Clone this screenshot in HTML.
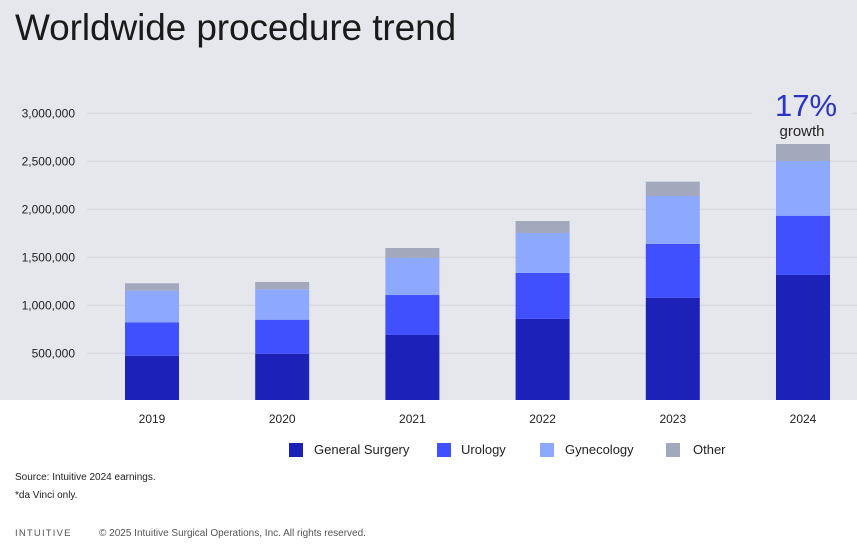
<!DOCTYPE html>
<html><head><meta charset="utf-8"><style>
body{margin:0;width:857px;height:551px;overflow:hidden;background:#fff;font-family:"Liberation Sans",sans-serif}
svg{display:block}
</style></head><body>
<svg width="857" height="551" id="chart">
<rect x="0" y="0" width="857" height="400" fill="#e6e7ed"/>
<text x="15" y="40" font-size="37" fill="#1a1a1a" style="letter-spacing:-0.1px">Worldwide procedure trend</text>
<g id="grid"></g>
<g id="bars"></g>
<g id="xlabels"></g>
<rect x="752" y="86" width="100" height="58" fill="#e6e7ed"/>
<text x="806" y="116" font-size="31" fill="#2a33c8" text-anchor="middle">17%</text>
<text x="802" y="136" font-size="15" fill="#222" text-anchor="middle">growth</text>
<g font-size="13" fill="#222">
<rect x="289" y="443" width="14" height="14" fill="#1c22b8"/><text x="314" y="454">General Surgery</text>
<rect x="437" y="443" width="14" height="14" fill="#4050ff"/><text x="461" y="454">Urology</text>
<rect x="540" y="443" width="14" height="14" fill="#8ca8ff"/><text x="565" y="454">Gynecology</text>
<rect x="666" y="443" width="14" height="14" fill="#a4a8bc"/><text x="693" y="454">Other</text>
</g>
<text x="15" y="480" font-size="10" fill="#222">Source: Intuitive 2024 earnings.</text>
<text x="15" y="498" font-size="10" fill="#222">*da Vinci only.</text>
<text x="15" y="536" font-size="9.5" fill="#555" style="letter-spacing:1.2px">INTUITIVE</text>
<text x="99" y="536" font-size="10" fill="#555">© 2025 Intuitive Surgical Operations, Inc. All rights reserved.</text>
</svg>
<script>
const categories=["2019","2020","2021","2022","2023","2024"];
const generalSurgery=[475000,496000,691000,858000,1079000,1316000];
const urology=[348000,354000,416000,479000,560000,617000];
const gynecology=[329000,317000,386000,416000,500000,570000];
const other=[77000,76000,104000,125000,149000,185000];
const yTicks=[500000,1000000,1500000,2000000,2500000,3000000];
const ns="http://www.w3.org/2000/svg";
const y0=401.3,pxPerUnit=96/1000000;
function yScale(v){return y0-v*pxPerUnit;}
function xCenter(i){return 152+i*130.2;}
const grid=document.getElementById('grid');
yTicks.forEach(t=>{
 const l=document.createElementNS(ns,'line');
 l.setAttribute('x1',87);l.setAttribute('x2',857);
 l.setAttribute('y1',yScale(t));l.setAttribute('y2',yScale(t));
 l.setAttribute('stroke','#d3d4dc');l.setAttribute('stroke-width','1');
 
 
 grid.appendChild(l);
 const tx=document.createElementNS(ns,'text');
 tx.setAttribute('x',75);tx.setAttribute('y',yScale(t)+4);
 tx.setAttribute('text-anchor','end');tx.setAttribute('font-size','12');tx.setAttribute('fill','#222');
 tx.textContent=t.toLocaleString('en-US');
 
 
 grid.appendChild(tx);
});
const series=[[generalSurgery,'#1c22b8','general-surgery'],[urology,'#4050ff','urology'],[gynecology,'#8ca8ff','gynecology'],[other,'#a4a8bc','other']];
const bars=document.getElementById('bars'),xl=document.getElementById('xlabels');
categories.forEach((c,i)=>{
 let cum=0;
 series.forEach(([vals,col,nm])=>{
  const v=vals[i];
  const r=document.createElementNS(ns,'rect');
  r.setAttribute('x',xCenter(i)-27);r.setAttribute('width',54);
  r.setAttribute('y',yScale(cum+v));r.setAttribute('height',Math.min(v*pxPerUnit,400-yScale(cum+v)));
  r.setAttribute('fill',col);
  
  
  bars.appendChild(r);
  cum+=v;
 });
 const t=document.createElementNS(ns,'text');
 t.setAttribute('x',xCenter(i));t.setAttribute('y',423);
 t.setAttribute('text-anchor','middle');t.setAttribute('font-size','12');t.setAttribute('fill','#222');
 t.textContent=c;
 
 
 xl.appendChild(t);
});
</script>
</body></html>
